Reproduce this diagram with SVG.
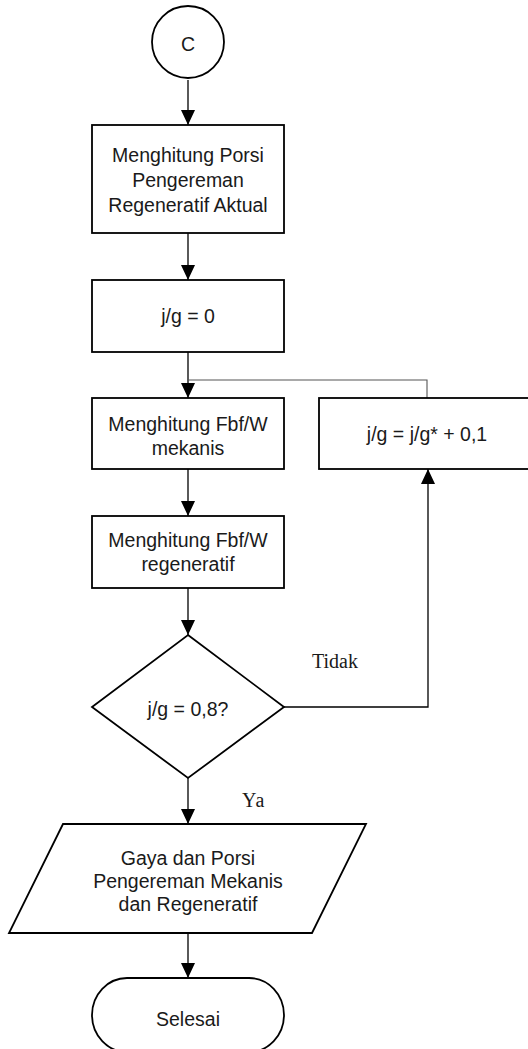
<svg xmlns="http://www.w3.org/2000/svg" width="528" height="1049" viewBox="0 0 528 1049">
  <style>
    .shape { fill: #ffffff; stroke: #000000; stroke-width: 1.8; }
    .lbl { font-family: "Liberation Sans", Arial, sans-serif; font-size: 19.5px; fill: #1a1a1a; text-anchor: middle; }
    .note { font-family: "Liberation Serif", "Times New Roman", serif; font-size: 20px; fill: #1a1a1a; }
    .wire { fill: none; stroke: #000000; stroke-width: 1.3; }
    .wire-thin { fill: none; stroke: #555555; stroke-width: 1.1; }
  </style>
  <defs>
    <marker id="arrow" markerUnits="userSpaceOnUse" markerWidth="15" markerHeight="14" refX="15" refY="7" orient="auto">
      <path d="M0,0 L15,7 L0,14 z" fill="#000000"/>
    </marker>
  </defs>

  <rect width="528" height="1049" fill="#ffffff"/>

  <!-- connectors -->
  <g id="connectors">
    <line class="wire" x1="188" y1="80" x2="188" y2="125" marker-end="url(#arrow)"/>
    <line class="wire" x1="188" y1="233" x2="188" y2="280" marker-end="url(#arrow)"/>
    <line class="wire" x1="188" y1="352" x2="188" y2="398" marker-end="url(#arrow)"/>
    <polyline class="wire-thin" points="427,398 427,380 188,380"/>
    <line class="wire" x1="188" y1="469" x2="188" y2="516" marker-end="url(#arrow)"/>
    <line class="wire" x1="188" y1="588" x2="188" y2="635" marker-end="url(#arrow)"/>
    <polyline class="wire" points="284,707 428,707 428,469" marker-end="url(#arrow)"/>
    <line class="wire" x1="188" y1="778" x2="188" y2="824" marker-end="url(#arrow)"/>
    <line class="wire" x1="188" y1="933" x2="188" y2="978" marker-end="url(#arrow)"/>
    <text class="note" x="312" y="668">Tidak</text>
    <text class="note" x="242" y="807" letter-spacing="1">Ya</text>
  </g>

  <!-- start connector -->
  <g id="node-c">
    <circle class="shape" cx="188" cy="42" r="36"/>
    <text class="lbl" x="188" y="51" font-size="18">C</text>
  </g>

  <g id="node-porsi-aktual">
    <rect class="shape" x="92" y="125" width="192" height="108"/>
    <text class="lbl" x="188" y="162">Menghitung Porsi</text>
    <text class="lbl" x="188" y="187">Pengereman</text>
    <text class="lbl" x="188" y="212">Regeneratif Aktual</text>
  </g>

  <g id="node-init">
    <rect class="shape" x="92" y="280" width="192" height="72"/>
    <text class="lbl" x="188" y="323">j/g = 0</text>
  </g>

  <g id="node-mekanis">
    <rect class="shape" x="92" y="398" width="192" height="71"/>
    <text class="lbl" x="188" y="431">Menghitung Fbf/W</text>
    <text class="lbl" x="188" y="455">mekanis</text>
  </g>

  <g id="node-increment">
    <rect class="shape" x="319" y="398" width="216" height="71"/>
    <text class="lbl" x="427" y="441">j/g = j/g* + 0,1</text>
  </g>

  <g id="node-regeneratif">
    <rect class="shape" x="92" y="516" width="192" height="72"/>
    <text class="lbl" x="188" y="547">Menghitung Fbf/W</text>
    <text class="lbl" x="188" y="571">regeneratif</text>
  </g>

  <g id="node-check">
    <polygon class="shape" points="188,635 284,707 188,778 92,707"/>
    <text class="lbl" x="188" y="716">j/g = 0,8?</text>
  </g>

  <g id="node-output">
    <polygon class="shape" points="63,824 366,824 312,933 9,933"/>
    <text class="lbl" x="188" y="865" font-size="19">Gaya dan Porsi</text>
    <text class="lbl" x="188" y="888" font-size="19">Pengereman Mekanis</text>
    <text class="lbl" x="188" y="911" font-size="19">dan Regeneratif</text>
  </g>

  <g id="node-end">
    <rect class="shape" x="92" y="978" width="192" height="74" rx="35" ry="37"/>
    <text class="lbl" x="188" y="1026" font-size="19">Selesai</text>
  </g>
</svg>
